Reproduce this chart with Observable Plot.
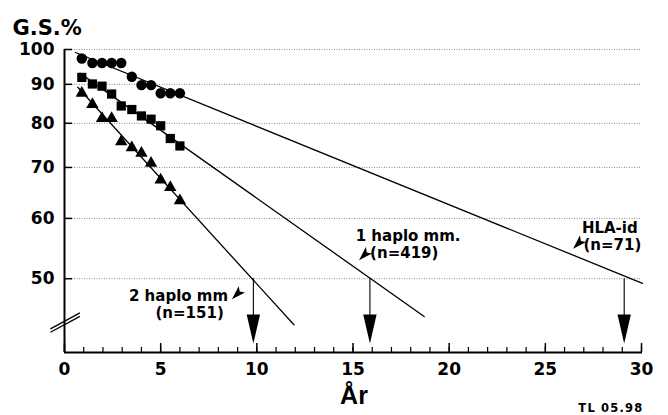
<!DOCTYPE html>
<html><head><meta charset="utf-8">
<script src="https://cdn.jsdelivr.net/npm/d3@7"></script>
<script src="https://cdn.jsdelivr.net/npm/@observablehq/plot@0.6"></script>
<style>body{margin:0;background:#fff}</style>
</head><body>
<div id="chart"></div>
<script>
// Years after transplantation for the plotted points
const years = [0.9, 1.45, 1.95, 2.45, 2.95, 3.5, 4.0, 4.5, 5.0, 5.5, 6.0];
// G.S.% values (log axis)
const hlaId  = [97.3, 96.0, 96.0, 96.0, 96.0, 92.1, 89.8, 89.8, 87.6, 87.6, 87.6];
const haplo1 = [91.9, 90.1, 89.5, 87.4, 84.3, 83.4, 81.8, 81.0, 79.4, 76.4, 74.7];
const haplo2 = [87.6, 84.7, 81.2, 81.2, 75.7, 74.3, 73.1, 70.9, 67.4, 65.9, 63.3];
const seriesNames = ["HLA-id", "1 haplo mm.", "2 haplo mm"];
const counts = ["(n=71)", "(n=419)", "(n=151)"];
// fitted lines: start / end year and value
const fitYears  = [[0.57, 30.05], [0.8, 18.7], [0.69, 11.93]];
const fitValues = [[99.1, 49.3], [93.1, 44.6], [89.2, 43.5]];
// year where each fitted line reaches 50 %
const medianYears = [29.1, 15.88, 9.82];
const xTicks = [0, 5, 10, 15, 20, 25, 30];
const xMinor = d3.range(0, 31);
const yTicks = [50, 60, 70, 80, 90, 100];
const yTitle = "G.S.%";
const xTitle = "År";
const footer = "TL 05.98";

const rows = (vals) => years.map((x, i) => ({x, y: vals[i]}));
const fits = fitYears.flatMap((xs, i) => xs.map((x, j) => ({x, y: fitValues[i][j], s: seriesNames[i]})));

// annotation anchors in data coordinates
const annotations = [
  {text: seriesNames[2], x: 3.35, y: 46.7},
  {text: counts[2], x: 4.73, y: 44.4},
  {text: seriesNames[1], x: 15.14, y: 56.0},
  {text: counts[1], x: 15.89, y: 53.2},
  {text: seriesNames[0], x: 26.9, y: 57.4},
  {text: counts[0], x: 26.98, y: 54.5}
];
const pointers = [{x: 9.0, y: 47.8}, {x: 15.61, y: 53.8}, {x: 26.74, y: 55.7}];

const arrowHead = {draw(c) { c.moveTo(0, 0); c.lineTo(-6.7, -29); c.lineTo(6.7, -29); c.closePath(); }};
const dart = {draw(c) { c.moveTo(-5.7, 5.7); c.lineTo(7.4, -1.1); c.lineTo(2.1, -2.1); c.lineTo(1.1, -7.4); c.closePath(); }};

const plot = Plot.plot({
  width: 668, height: 415,
  marginTop: 49, marginBottom: 63, marginLeft: 64, marginRight: 27,
  style: {fontFamily: "DejaVu Sans", fontWeight: "bold", background: "white", color: "black", overflow: "visible"},
  x: {domain: [0, 30]},
  y: {type: "log", domain: [40, 100]},
  marks: [
    Plot.gridY(yTicks, {stroke: "#8a8a8a", strokeOpacity: 1, strokeDasharray: "1,1.5"}),
    Plot.axisY(yTicks, {tickSize: 0, tickPadding: 10, fontSize: 17, fontWeight: "bold", tickFormat: d => String(d), label: null}),
    Plot.axisX(xTicks, {tickSize: 0, tickPadding: 10, fontSize: 17, fontWeight: "bold", tickFormat: d => String(d), label: null}),
    Plot.ruleX(xMinor, {x: d => d, y1: 40, y2: 40.62, stroke: "black", strokeWidth: 1.2}),
    Plot.ruleX(xTicks, {x: d => d, y1: 40, y2: 41.1, stroke: "black", strokeWidth: 1.5}),
    Plot.ruleY(yTicks, {y: d => d, x1: 0, x2: 0.42, stroke: "black", strokeWidth: 1.5}),
    Plot.ruleX([0], {y1: 40, y2: 100, stroke: "black", strokeWidth: 2}),
    Plot.ruleY([40], {x1: 0, x2: 30.05, stroke: "black", strokeWidth: 2}),
    Plot.link([{x1: -0.73, y1: 42.96, x2: 0.8, y2: 45.09}, {x1: -0.73, y1: 42.52, x2: 0.8, y2: 44.62}],
      {x1: "x1", y1: "y1", x2: "x2", y2: "y2", stroke: "black", strokeWidth: 1.3}),
    Plot.line(fits, {x: "x", y: "y", z: "s", stroke: "black", strokeWidth: 1.3}),
    Plot.dot(rows(hlaId), {x: "x", y: "y", symbol: "circle", r: 5.2, fill: "black"}),
    Plot.dot(rows(haplo1), {x: "x", y: "y", symbol: "square", r: 5.2, fill: "black"}),
    Plot.dot(rows(haplo2), {x: "x", y: "y", symbol: "triangle", r: 4.6, fill: "black"}),
    Plot.ruleX(medianYears, {x: d => d, y1: 50, y2: 41.5, stroke: "black", strokeWidth: 1.1}),
    Plot.dot(medianYears, {x: d => d, y: () => 41.1, symbol: arrowHead, r: 5, fill: "black"}),
    Plot.dot(pointers, {x: "x", y: "y", symbol: dart, r: 5, fill: "black"}),
    Plot.text(annotations, {x: "x", y: "y", text: "text", textAnchor: "start", lineAnchor: "bottom", fontSize: 15, fontWeight: "bold", fill: "black"}),
    Plot.text([yTitle], {text: d => d, frameAnchor: "top-left", dx: -52, dy: -15, textAnchor: "start", lineAnchor: "bottom", fontSize: 21, fontWeight: "bold", fill: "black"}),
    Plot.text([xTitle], {text: d => d, frameAnchor: "bottom", dx: 1, dy: 51, lineAnchor: "bottom", fontSize: 25, fontFamily: "Liberation Sans", fontWeight: "bold", fill: "black"}),
    Plot.text([footer], {text: d => d, frameAnchor: "bottom-right", dx: 2, dy: 59, textAnchor: "end", lineAnchor: "bottom", fontSize: 11.5, fontWeight: "bold", fill: "black"})
  ]
});
d3.select(plot).selectAll("text").filter(function () { return this.textContent === footer; }).attr("letter-spacing", "1.2px");
document.getElementById("chart").appendChild(plot);
</script>
</body></html>
